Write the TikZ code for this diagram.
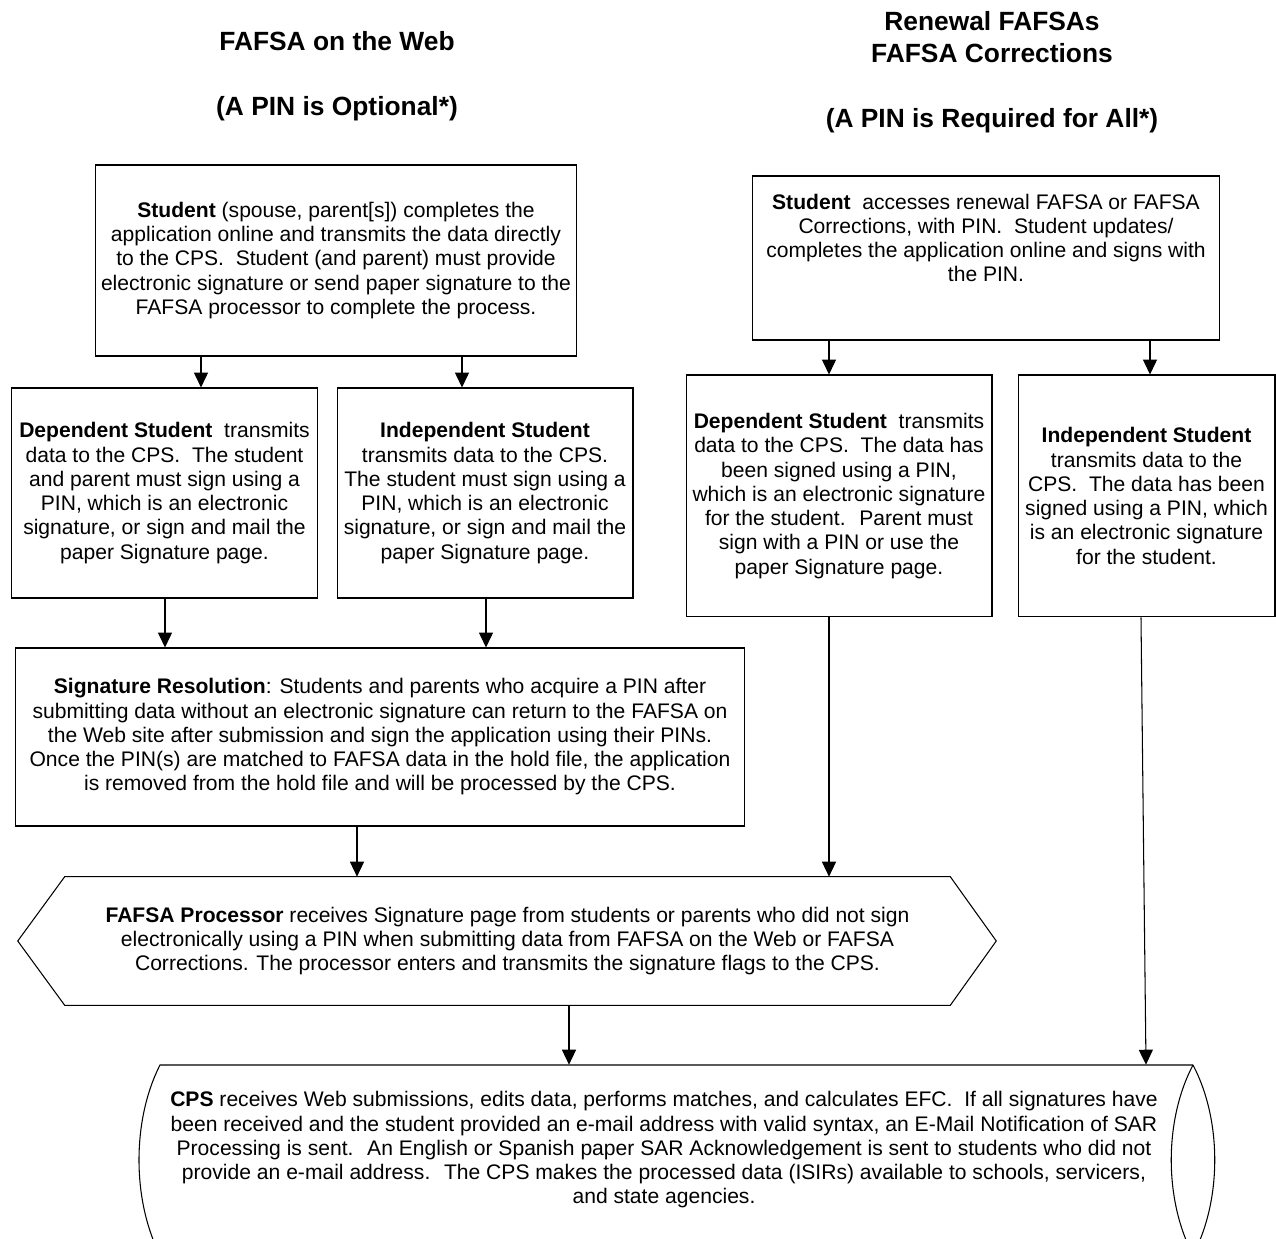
\documentclass[tikz,border=0pt]{standalone}
\usepackage{fontspec}
\setmainfont{Liberation Sans}
\usetikzlibrary{arrows.meta}

\begin{document}
\begin{tikzpicture}[x=0.02cm,y=-0.02cm,
  box/.style={draw,line width=0.6pt,align=center,inner sep=0pt,font=\fontsize{12}{13.8}\selectfont},
  txt/.style={align=center,inner sep=0pt,font=\fontsize{12}{13.8}\selectfont},
  head/.style={align=center,inner sep=0pt,font=\fontsize{15}{18.5}\selectfont\bfseries},
  arr/.style={line width=0.6pt,-{Triangle[length=8.5pt,width=8pt]}}]
\useasboundingbox (0,0) rectangle (1276,1239);

\node[head] (headW) at (337,76) {FAFSA on the Web\\ \mbox{}\\(A PIN is Optional*)};
\node[head] (headR) at (992,72) {Renewal FAFSAs\\FAFSA Corrections\\ \mbox{}\\(A PIN is Required for All*)};

% FAFSA on the Web
\node[box,minimum width=9.64cm,minimum height=3.82cm] (stuW) at (336,260.5)
  {\textbf{Student} (spouse, parent[s]) completes the\\application online and transmits the data directly\\to the CPS.~ Student (and parent) must provide\\electronic signature or send paper signature to the\\FAFSA processor to complete the process.};
\node[box,minimum width=6.14cm,minimum height=4.2cm] (depW) at (164.5,493)
  {\textbf{Dependent Student}~ transmits\\data to the CPS.~ The student\\and parent must sign using a\\PIN, which is an electronic\\signature, or sign and mail the\\paper Signature page.};
\node[box,minimum width=5.92cm,minimum height=4.2cm] (indW) at (485,493)
  {\textbf{Independent Student}\\transmits data to the CPS.\\The student must sign using a\\PIN, which is an electronic\\signature, or sign and mail the\\paper Signature page.};
\node[box,minimum width=14.6cm,minimum height=3.56cm] (sigres) at (380,737)
  {\textbf{Signature Resolution}: Students and parents who acquire a PIN after\\submitting data without an electronic signature can return to the FAFSA on\\the Web site after submission and sign the application using their PINs.\\Once the PIN(s) are matched to FAFSA data in the hold file, the application\\is removed from the hold file and will be processed by the CPS.};

% Renewal FAFSAs / FAFSA Corrections
\node[box,minimum width=9.36cm,minimum height=3.28cm] (stuR) at (986,258)
  {\textbf{Student}~ accesses renewal FAFSA or FAFSA\\Corrections, with PIN.~ Student updates/\\completes the application online and signs with\\the PIN.\\[9pt]\mbox{}};
\node[box,minimum width=6.12cm,minimum height=4.84cm] (depR) at (839,496)
  {\textbf{Dependent Student}~ transmits\\data to the CPS.~ The data has\\been signed using a PIN,\\which is an electronic signature\\for the student.~ Parent must\\sign with a PIN or use the\\paper Signature page.};
\node[box,minimum width=5.14cm,minimum height=4.84cm] (indR) at (1146.5,496)
  {\textbf{Independent Student}\\transmits data to the\\CPS.~ The data has been\\signed using a PIN, which\\is an electronic signature\\for the student.};

% processor and CPS
\node[txt,minimum width=17.7cm,minimum height=2.56cm] (proc) at (507.5,941)
  {\textbf{FAFSA Processor} receives Signature page from students or parents who did not sign\\electronically using a PIN when submitting data from FAFSA on the Web or FAFSA\\Corrections. The processor enters and transmits the signature flags to the CPS.};
\draw[line width=0.6pt] (proc.north west) -- (proc.north east) -- ([shift={(46,0)}]proc.east)
  -- (proc.south east) -- (proc.south west) -- ([shift={(-47,0)}]proc.west) -- cycle;

\node[txt,minimum height=3.4cm] (cps) at (664,1150)
  {\textbf{CPS} receives Web submissions, edits data, performs matches, and calculates EFC.~ If all signatures have\\been received and the student provided an e-mail address with valid syntax, an E-Mail Notification of SAR\\Processing is sent.~ An English or Spanish paper SAR Acknowledgement is sent to students who did not\\provide an e-mail address.~ The CPS makes the processed data (ISIRs) available to schools, servicers,\\and state agencies.};
\draw[line width=0.6pt] (1193,1065) -- (160,1065) .. controls (132,1120) and (132,1200) .. (160,1255) -- (1193,1255);
\draw[line width=0.6pt] (1193,1065) .. controls (1164,1120) and (1164,1200) .. (1193,1255);
\draw[line width=0.6pt] (1193,1065) .. controls (1222,1120) and (1222,1200) .. (1193,1255);

% arrow columns
\foreach \n/\x in {a/201,b/462,c/165,d/486,e/357,f/829,g/1150,h/1141,i/1146,j/569}
  \coordinate (col\n) at (\x,0);

\draw[arr] (stuW.south -| cola) -- (depW.north -| cola);
\draw[arr] (stuW.south -| colb) -- (indW.north -| colb);
\draw[arr] (depW.south -| colc) -- (sigres.north -| colc);
\draw[arr] (indW.south -| cold) -- (sigres.north -| cold);
\draw[arr] (sigres.south -| cole) -- (proc.north -| cole);
\draw[arr] (stuR.south -| colf) -- (depR.north -| colf);
\draw[arr] (stuR.south -| colg) -- (indR.north -| colg);
\draw[arr] (depR.south -| colf) -- (proc.north -| colf);
\draw[arr] (indR.south -| colh) -- (cps.north -| coli);
\draw[arr] (proc.south -| colj) -- (cps.north -| colj);
\end{tikzpicture}
\end{document}
